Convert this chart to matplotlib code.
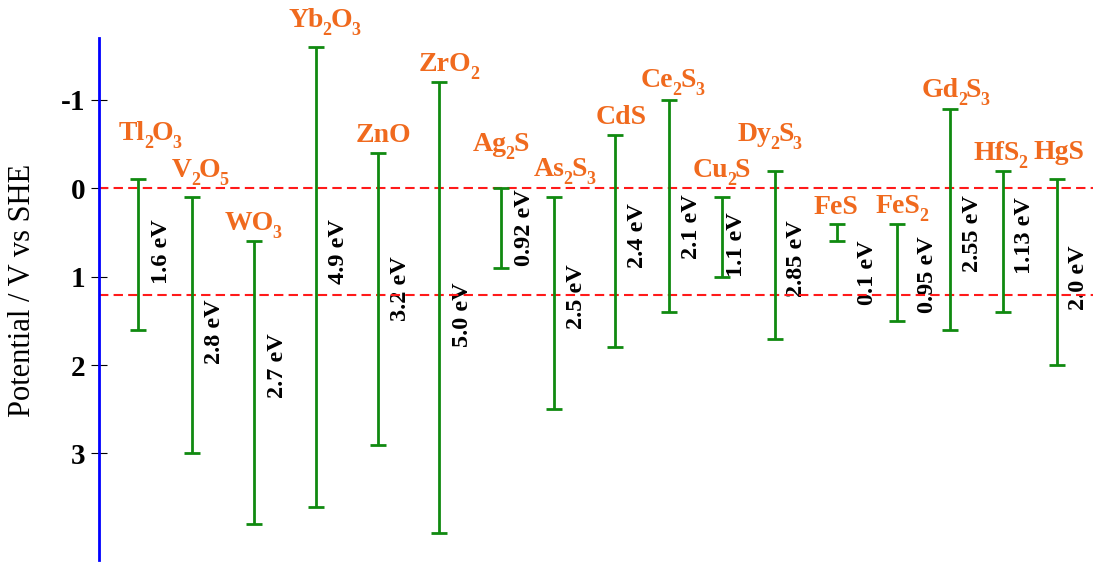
import matplotlib
matplotlib.use("Agg")
import matplotlib.pyplot as plt
import matplotlib.transforms as mtransforms
import numpy as np
import re

plt.rcParams['font.family'] = ['Liberation Serif', 'DejaVu Serif']

# ---- data ----
compounds = ['Tl_2O_3', 'V_2O_5', 'WO_3', 'Yb_2O_3', 'ZnO', 'ZrO_2', 'Ag_2S', 'As_2S_3',
             'CdS', 'Ce_2S_3', 'Cu_2S', 'Dy_2S_3', 'FeS', 'FeS_2', 'Gd_2S_3', 'HfS_2', 'HgS']
x_pos = [0.384, 0.924, 1.550, 2.164, 2.784, 3.400, 4.017, 4.547, 5.157, 5.697,
         6.224, 6.757, 7.374, 7.974, 8.507, 9.034, 9.574]
top_pot = [-0.1, 0.1, 0.6, -1.6, -0.4, -1.2, 0.0, 0.1, -0.6, -1.0,
           0.1, -0.2, 0.4, 0.4, -0.9, -0.2, -0.1]
bottom_pot = [1.6, 3.0, 3.8, 3.6, 2.9, 3.9, 0.9, 2.5, 1.8, 1.4,
              1.0, 1.7, 0.6, 1.5, 1.6, 1.4, 2.0]
gap_labels = ['1.6 eV', '2.8 eV', '2.7 eV', '4.9 eV', '3.2 eV', '5.0 eV', '0.92 eV', '2.5 eV',
              '2.4 eV', '2.1 eV', '1.1 eV', '2.85 eV', '0.1 eV', '0.95 eV', '2.55 eV', '1.13 eV', '2.0 eV']
water_levels = [0.0, 1.21]
yticks = [-1, 0, 1, 2, 3]

# ---- layout for annotations (pixel offsets) ----
name_dx = [12, 8, -2, 8, 5, 9, -1, 10, 6, 3, -1, -6, -1, 5, 5, -3, 2]
name_dy = [39, 20, 11, 20, 11, 11, 37, 21, 11, 13, 20, 30, 10, 11, 12, 11, 20]
gap_dx = [24, 23, 23, 23, 23, 23, 23, 23, 23, 23, 15, 22, 31, 31, 23, 22, 22]
gap_y = [0.72, 1.62, 2.01, 0.72, 1.13, 1.43, 0.45, 1.23, 0.54, 0.43, 0.64, 0.80, 0.95, 0.98, 0.51, 0.53, 1.01]

W, H = 1093, 563
fig = plt.figure(figsize=(W / 100, H / 100), dpi=100)
ax = fig.add_axes([99.3 / W, 3 / H, 1 - 99.3 / W, (560 - 38) / H])
ax.set_xlim(0, (W - 99.3) / 100)
ax.set_ylim(4.205, -1.70)

green = '#108a10'
orange = '#f06a1e'
main_fs = 20
sub_fs = 13
sub_drop = 8  # pixels

for lvl in water_levels:
    ax.axhline(lvl, color='#ff1a1a', lw=1.5, dashes=(4.5, 2.5), zorder=2)

top = np.array(top_pot)
bot = np.array(bottom_pot)
ax.errorbar(x_pos, top, yerr=[np.zeros_like(top), bot - top], fmt='none',
            ecolor=green, elinewidth=2.0, capsize=6.1, capthick=2.0, zorder=3)

renderer = fig.canvas.get_renderer()


def draw_formula(x, y, dx, dy, formula):
    parts = re.findall(r'_(\d+)|([^_]+?)(?=_|$)', formula)
    tokens = []
    for sub, norm in parts:
        if sub:
            tokens.append((sub, True))
        elif norm:
            tokens.append((norm, False))
    widths = []
    for tok, is_sub in tokens:
        t = ax.text(0, 0, tok, fontsize=sub_fs if is_sub else main_fs, fontweight='bold')
        widths.append(t.get_window_extent(renderer).width - 1)
        t.remove()
    total = sum(widths)
    cur = dx - total / 2
    for (tok, is_sub), w in zip(tokens, widths):
        off = mtransforms.offset_copy(ax.transData, fig=fig, x=cur,
                                      y=dy - (sub_drop if is_sub else 0), units='dots')
        ax.text(x, y, tok, transform=off, ha='left', va='baseline', color=orange,
                fontsize=sub_fs if is_sub else main_fs, fontweight='bold', zorder=1)
        cur += w


for i, name in enumerate(compounds):
    draw_formula(x_pos[i], top_pot[i], name_dx[i], name_dy[i], name)
    ax.annotate(gap_labels[i], xy=(x_pos[i], gap_y[i]),
                xytext=(gap_dx[i], 0), textcoords='offset pixels',
                ha='center', va='center', rotation=90, fontsize=17.5,
                fontweight='bold', color='black', zorder=1)

for s in ['top', 'right', 'bottom']:
    ax.spines[s].set_visible(False)
ax.spines['left'].set_color('#0000ff')
ax.spines['left'].set_linewidth(2)
ax.set_xticks([])
ax.set_yticks(yticks)
ax.set_yticklabels([str(t) for t in yticks], fontsize=21, fontweight='bold')
ax.tick_params(axis='y', direction='inout', length=12.2, width=0.8, color='black', pad=4)

fig.text(23 / W, 1 - 290 / H, 'Potential / V vs SHE', rotation=90, ha='center', va='center',
         fontsize=22)

fig.savefig('out.png', dpi=100)
